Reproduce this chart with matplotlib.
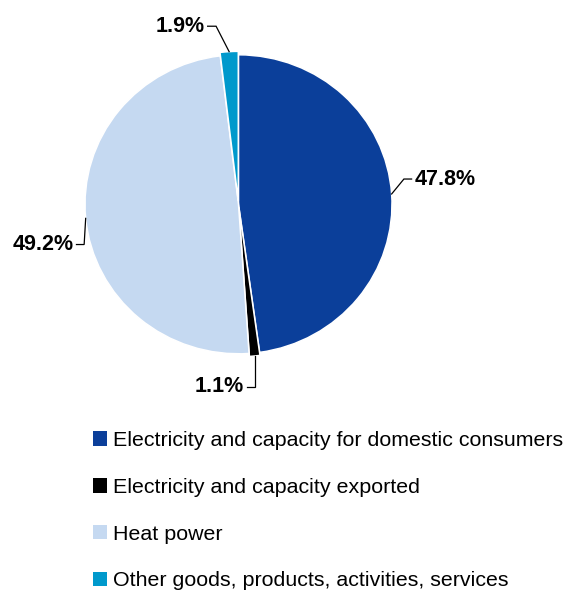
import numpy as np
import matplotlib
matplotlib.use("Agg")
import matplotlib.pyplot as plt
from matplotlib.patches import Patch

categories = ["Electricity and capacity for domestic consumers",
              "Electricity and capacity exported",
              "Heat power",
              "Other goods, products, activities, services"]
values = [47.8, 1.1, 49.2, 1.9]
colors = ["#0B3F9A", "#000000", "#C5D9F1", "#0099CC"]
explode = [0.0, 0.02, 0.0, 0.023]

plt.rcParams['font.family'] = ['Liberation Sans', 'DejaVu Sans']

W, H = 564, 595
fig = plt.figure(figsize=(W / 100, H / 100), dpi=100)

cx, cy, rx, ry = 238.5, 204.3, 153.5, 149.5
lim = 1.15
hx, hy = lim * rx, lim * ry
ax = fig.add_axes([(cx - hx) / W, (H - cy - hy) / H, 2 * hx / W, 2 * hy / H])
wedges, _ = ax.pie(values, colors=colors, startangle=90, counterclock=False,
                   explode=explode, radius=1.0,
                   wedgeprops=dict(edgecolor="white", linewidth=1.1))
ax.set_xlim(-lim, lim)
ax.set_ylim(-lim, lim)
ax.set_aspect("auto")
ax.axis("off")

layout = [
    dict(elbow=(0.08, 0.10), end=(0.13, 0.10), ha="left"),
    dict(elbow=(0.0, -0.205), end=(-0.05, -0.205), ha="right"),
    dict(elbow=(-0.01, -0.175), end=(-0.06, -0.175), ha="right"),
    dict(elbow=(-0.085, 0.17), end=(-0.14, 0.17), ha="right"),
]

for w, v, ex, lay in zip(wedges, values, explode, layout):
    ang = np.deg2rad((w.theta1 + w.theta2) / 2)
    rr = 1.0 + ex
    ax_, ay_ = rr * np.cos(ang), rr * np.sin(ang)
    ex_, ey_ = ax_ + lay["elbow"][0], ay_ + lay["elbow"][1]
    tx_, ty_ = ax_ + lay["end"][0], ay_ + lay["end"][1]
    ax.plot([ax_, ex_, tx_], [ay_, ey_, ty_], color="black", lw=0.9,
            clip_on=False, solid_joinstyle="miter")
    off = 0.02 if lay["ha"] == "left" else -0.02
    ax.text(tx_ + off, ty_, f"{v:.1f}%", ha=lay["ha"], va="center",
            fontsize=15.5, fontweight="bold", clip_on=False)

fs = 15.4
handles = [Patch(facecolor=c, edgecolor="none") for c in colors]
leg = fig.legend(handles, categories, loc="upper left",
                 bbox_to_anchor=(93 / W, 1 - 431 / H), frameon=False,
                 fontsize=fs, handlelength=0.66, handleheight=0.66,
                 handletextpad=0.28, labelspacing=1.3, borderpad=0,
                 borderaxespad=0)

fig.savefig("out.png", dpi=100)
